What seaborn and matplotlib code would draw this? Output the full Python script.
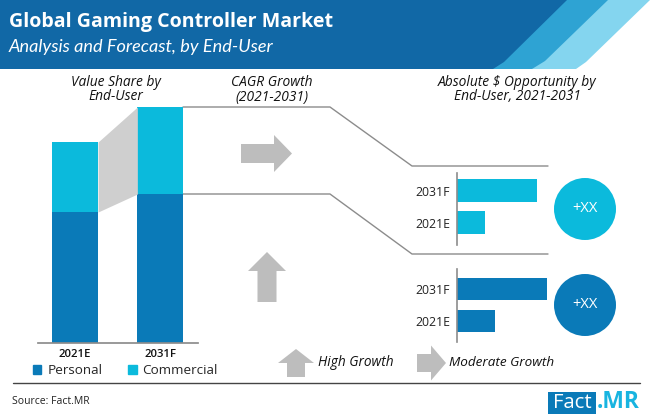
import matplotlib
matplotlib.use('Agg')
import matplotlib.pyplot as plt
from matplotlib.patches import Circle, Patch, Polygon, Rectangle
import pandas as pd
import seaborn as sns

# ── data ──────────────────────────────────────────────────────
years = ['2021E', '2031F']
personal_share = [131, 149]
commercial_share = [70, 87]

opp_years = ['2031F', '2021E']
commercial_opp = [80, 28]
personal_opp = [90, 38]

# ── colours ───────────────────────────────────────────────────
BLUE = '#0a7ab8'
CYAN = '#0bbadc'
ARROW = '#bdbdbd'
LINE = '#8c8c8c'

sns.set_theme(style='white')
plt.rcParams['font.family'] = ['Open Sans', 'DejaVu Sans']

fig = plt.figure(figsize=(6.5, 4.18), dpi=100)


def px_axes(x0, y0, x1, y1):
    # axes from pixel box, y measured from the top of the figure
    return fig.add_axes([x0 / 650, 1 - y1 / 418, (x1 - x0) / 650, (y1 - y0) / 418])


# ── overlay in pixel coordinates ──────────────────────────────
bg = fig.add_axes([0, 0, 1, 1], zorder=0)
bg.set_xlim(0, 650)
bg.set_ylim(418, 0)
bg.axis('off')

# header bands
bg.add_patch(Polygon([(480, 0), (650, 0), (586, 62), (576, 69), (480, 69)], color='#84d5ef', lw=0))
bg.add_patch(Polygon([(480, 0), (608, 0), (545, 61), (532, 69), (480, 69)], color='#2ea3d3', lw=0))
bg.add_patch(Polygon([(0, 0), (567, 0), (504, 62), (493, 69), (0, 69)], color='#1168a6', lw=0))
bg.text(9, 22, 'Global Gaming Controller Market', color='white', fontsize=14.1,
        fontweight='bold', va='center', family='Open Sans')
bg.text(9, 47, 'Analysis and Forecast, by End-User', color='white', fontsize=13.1,
        style='italic', fontweight='normal', va='center', family='Lato')

# section headings
for x, label in [(116, 'Value Share by\nEnd-User'),
                 (272, 'CAGR Growth\n(2021-2031)'),
                 (517, 'Absolute \\$ Opportunity by\nEnd-User, 2021-2031')]:
    bg.text(x, 89.5, label, ha='center', va='center', style='italic', fontsize=9.9,
            color='#111111', linespacing=1.0)

# connector lines
bg.plot([183, 330, 412, 548], [107, 107, 166, 166], color=LINE, lw=1)
bg.plot([183, 330, 412, 548], [194, 194, 254, 254], color=LINE, lw=1)


def up_arrow(tip_x, tip_y, base_y, half_head, half_shaft, bottom):
    bg.add_patch(Polygon([(tip_x, tip_y), (tip_x + half_head, base_y), (tip_x + half_shaft, base_y),
                          (tip_x + half_shaft, bottom), (tip_x - half_shaft, bottom),
                          (tip_x - half_shaft, base_y), (tip_x - half_head, base_y)],
                         color=ARROW, lw=0))


def right_arrow(tail_x, neck_x, tip_x, mid_y, half_head, half_shaft):
    bg.add_patch(Polygon([(tip_x, mid_y), (neck_x, mid_y - half_head), (neck_x, mid_y - half_shaft),
                          (tail_x, mid_y - half_shaft), (tail_x, mid_y + half_shaft),
                          (neck_x, mid_y + half_shaft), (neck_x, mid_y + half_head)],
                         color=ARROW, lw=0))


right_arrow(241, 274, 292, 153.5, 18.5, 9.5)
up_arrow(267, 252, 271, 19, 9.5, 302)
up_arrow(296, 349, 363, 18, 9, 377)
right_arrow(417, 431, 446, 363, 17.5, 9)
bg.text(318, 363, 'High Growth', style='italic', fontsize=9.8, va='center', color='#111111')
bg.text(449, 363, 'Moderate Growth', style='italic', fontsize=9.7, va='center', color='#111111')

# circles
for cy, col in [(209, CYAN), (305, BLUE)]:
    bg.add_patch(Circle((585, cy), 31, color=col, lw=0))
    bg.text(585, cy - 1, '+XX', color='white', fontsize=10.5, ha='center', va='center')

# footer
bg.plot([13, 640], [383, 383], color='#444444', lw=1)
bg.text(12, 401, 'Source: Fact.MR', fontsize=7.5, va='center', color='#222222')
bg.add_patch(Rectangle((548, 392), 48, 22, color=BLUE, lw=0))
bg.text(572.5, 402.5, 'Fact', color='white', fontsize=14.6, ha='center', va='center')
bg.text(597, 402.5, '.MR', color='#18b4e0', fontsize=16.5, fontweight='bold', va='center')

# legend
bg.legend(handles=[Patch(color=BLUE, label='Personal'), Patch(color=CYAN, label='Commercial')],
          loc='center left', bbox_to_anchor=(33, 371), bbox_transform=bg.transData, ncol=2,
          frameon=False, fontsize=9.7, handlelength=0.6, handleheight=0.6, handletextpad=0.45,
          columnspacing=1.95, borderpad=0, borderaxespad=0)

# ── stacked share bars ────────────────────────────────────────
share = pd.DataFrame({'year': years, 'personal': personal_share, 'commercial': commercial_share})
share['total'] = share['personal'] + share['commercial']

ax = px_axes(38, 100, 198, 346)
ax.patch.set_alpha(0)
sns.barplot(data=share, x='year', y='total', color=CYAN, saturation=1, width=0.54, linewidth=0, ax=ax)
sns.barplot(data=share, x='year', y='personal', color=BLUE, saturation=1, width=0.54, linewidth=0, ax=ax)
ax.set_xlim(-0.433, 1.44)
ax.set_ylim(-3, 243)

# grey band between the two commercial segments
edge_l = 0 + 0.27
edge_r = 1 - 0.27
ax.fill_between([edge_l, edge_r], share['personal'], share['total'], color='#cfcfcf', lw=0, zorder=1)

sns.despine(ax=ax, left=True)
ax.spines['bottom'].set_position(('data', 0))
ax.spines['bottom'].set_color(LINE)
ax.set_xlabel('')
ax.set_ylabel('')
ax.set_yticks([])
ax.tick_params(axis='x', length=0, pad=4, labelsize=8.2, labelcolor='#111111')
for t in ax.get_xticklabels():
    t.set_fontweight('semibold')

# ── opportunity bars ──────────────────────────────────────────
for box, vals, col, ylim in [((457, 173, 548, 245), commercial_opp, CYAN, (1.70, -0.547)),
                             ((457, 269, 548, 342), personal_opp, BLUE, (1.68, -0.635))]:
    a = px_axes(*box)
    a.patch.set_alpha(0)
    sns.barplot(x=vals, y=opp_years, color=col, saturation=1, width=0.7, linewidth=0, ax=a)
    a.set_xlim(0, 91)
    a.set_ylim(*ylim)
    sns.despine(ax=a, bottom=True)
    a.spines['left'].set_color(LINE)
    a.spines['left'].set_linewidth(1.2)
    a.set_xticks([])
    a.tick_params(axis='y', length=0, pad=5, labelsize=8.8, labelcolor='#222222')

fig.savefig('out.png', dpi=100)
